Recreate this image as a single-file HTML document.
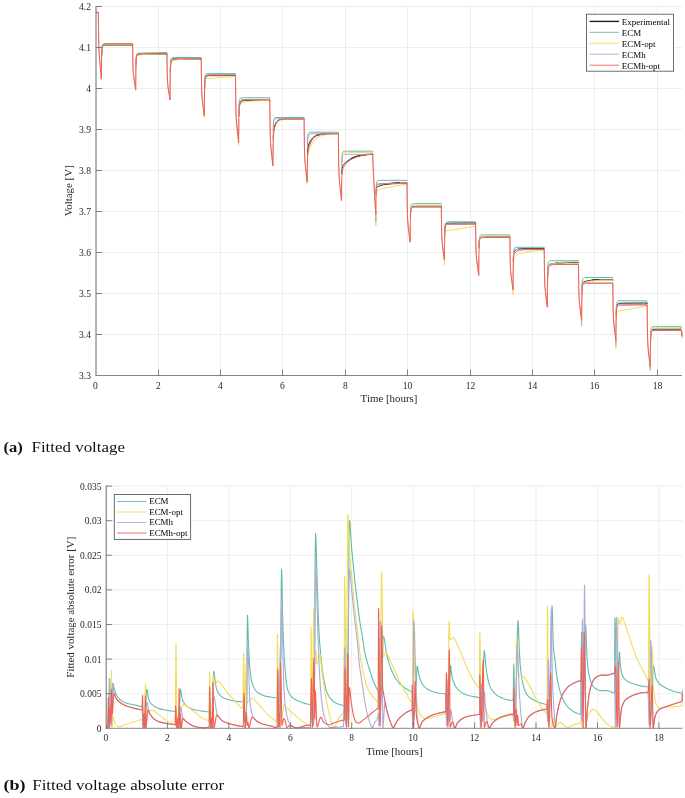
<!DOCTYPE html><html><head><meta charset="utf-8"><title>Fitted voltage</title>
<style>html,body{margin:0;padding:0;background:#fff}body{width:685px;height:798px;overflow:hidden;position:relative}svg{position:absolute;left:0;top:0}text{font-family:"Liberation Serif",serif;fill:#262626}.t{font-size:9.55px}.l{font-size:10.9px}.cap{font-size:15.5px;fill:#111}.lg{font-size:8.95px;fill:#000}</style></head><body>
<svg width="685" height="798" viewBox="0 0 685 798">
<path d="M158.5 6.5V375.5M220.5 6.5V375.5M282.5 6.5V375.5M345.5 6.5V375.5M407.5 6.5V375.5M470.5 6.5V375.5M532.5 6.5V375.5M594.5 6.5V375.5M657.5 6.5V375.5M95.6 6.5H682.0M95.6 47.5H682.0M95.6 88.5H682.0M95.6 129.5H682.0M95.6 170.5H682.0M95.6 211.5H682.0M95.6 252.5H682.0M95.6 293.5H682.0M95.6 334.5H682.0" stroke="#e8e8e8" stroke-width="0.8" fill="none"/>
<path d="M167.4 486.1V728.3M228.8 486.1V728.3M290.3 486.1V728.3M351.7 486.1V728.3M413.1 486.1V728.3M474.6 486.1V728.3M536.0 486.1V728.3M597.5 486.1V728.3M658.9 486.1V728.3M105.95 486.1H682.4M105.95 520.7H682.4M105.95 555.3H682.4M105.95 589.9H682.4M105.95 624.5H682.4M105.95 659.1H682.4M105.95 693.7H682.4" stroke="#e8e8e8" stroke-width="0.8" fill="none"/>
<!--CURVES-->
<g fill="none" stroke-width="1" stroke-linejoin="round" stroke-linecap="butt">
<path d="M95.95 12.4L98.3 12.4L98.35 13.4M101.7 55.32L101.9 50.57L102.2 47.87L102.5 46.83L102.8 46.3L103.3 45.82L103.9 45.55L105 45.36L106.8 45.31L132.6 45.3L132.65 46.3M136 64.67L136.2 59.69L136.5 56.9L136.7 56.12L137.1 55.34L137.6 54.88L138.2 54.6L139.3 54.41L141.1 54.34L166.9 54L166.95 55M170.3 71.46L170.5 65.73L170.7 63.19L170.9 61.91L171.2 60.9L171.6 60.18L172.1 59.67L172.7 59.34L173.8 59.1L175.8 59.01L201.2 59L201.25 60M204.6 88.41L204.8 82.74L205 80.17L205.2 78.84L205.5 77.74L205.9 76.93L206.4 76.36L207.1 75.95L208.2 75.7L210.2 75.61L235.5 75.6L235.55 76.6M238.9 116.45L239.2 108.93L239.4 106.74L239.7 104.85L240.1 103.35L240.6 102.22L241.2 101.44L241.9 100.97L243.1 100.64L245.2 100.52L269.8 100.5L269.85 101.5M273.2 139.44L273.4 133.88L273.6 131.19L273.9 129.03L274.3 127.21L275.1 124.69L276 122.78L277 121.4L277.6 120.83L278.2 120.39L279.5 119.77L281.1 119.37L283.2 119.14L286.4 119.03L304.1 119L304.15 120M307.5 155.16L307.8 148.57L308.1 146.43L308.6 144.76L309.8 142.07L311.2 139.76L312.7 137.98L313.6 137.17L314.5 136.51L316.3 135.53L318.3 134.83L320.7 134.31L323.7 133.96L329.2 133.7L338.4 133.61L338.45 134.61M341.8 174.26L342.1 168.14L342.3 166.84L342.6 165.99L343 165.39L343.7 164.56L345.6 162.63L347.5 161.03L349.5 159.65L352 158.27L354.7 157.11L357.5 156.21L361 155.38L363.5 154.94L366.5 154.54L372.7 154.01L372.75 155.01M376.1 193.64L376.4 188.98L376.6 188.04L376.8 187.61L377.3 187.14L378.7 186.36L380.2 185.69L381.9 185.09L384.6 184.39L387.6 183.87L391.3 183.47L395.3 183.22L400.3 183.06L407 182.96L407.05 183.96M410.4 216.83L410.6 211.77L410.8 209.55L411 208.45L411.3 207.59L411.7 206.98L412.2 206.56L412.8 206.29L413.9 206.08L415.9 206.01L441.3 206L441.35 207M444.7 234.48L444.9 229.34L445.1 227.05L445.3 225.89L445.6 224.96L446 224.28L446.5 223.81L447.2 223.46L448.3 223.25L450.3 223.15L475.6 222.9L475.65 223.9M479 247.7L479.2 242.39L479.5 239.47L479.7 238.66L480.1 237.85L480.6 237.34L481.3 236.99L482.4 236.79L484.4 236.71L509.9 236.7L509.95 237.7M513.3 261.4L513.5 255.94L513.7 253.67L513.9 252.59L514.3 251.55L514.9 250.71L515.8 249.92L516.8 249.4L517.7 249.12L518.7 248.94L521.7 248.75L544.2 248.7L544.25 249.7M547.6 277.34L547.8 271.32L548 268.65L548.2 267.3L548.5 266.2L549 265.23L549.6 264.59L550.3 264.16L551.1 263.87L552.2 263.62L555.8 263.13L560.5 262.75L566.3 262.49L578.5 262.27L578.55 263.27M581.9 291.19L582.1 285.87L582.3 283.84L582.5 283.02L582.7 282.65L583.1 282.32L585.1 281.47L587.5 280.84L590.3 280.39L593.7 280.1L598.1 279.92L612.8 279.81L612.85 280.81M616.2 314.59L616.4 309.39L616.6 307.07L616.8 305.9L617.1 304.97L617.5 304.29L618 303.81L618.7 303.47L619.8 303.26L621.8 303.17L647.1 303L647.15 304M650.5 340.47L650.8 333.83L651 332.23L651.2 331.38L651.6 330.49L652.1 329.93L652.7 329.57L653.6 329.34L656.7 329.2L681.4 329.2L681.7 333.5L682 335.5" stroke="#1c1c1c" stroke-width="1.0"/>
<path d="M281.95 119.25L283.95 119.1L286.9 119.03M316.25 135.56L317.45 135.09L318.85 134.68L321.7 134.17L325.7 133.83L330.7 133.67M350.85 158.86L352.45 158.05L354.15 157.32L356 156.66L358 156.07L362 155.19L367 154.49M383.95 184.53L387.15 183.93L390.8 183.51L394.8 183.25L399.8 183.07M555.95 263.12L560.05 262.78L564.8 262.54M591.55 280.26L594.85 280.04L599.1 279.9" stroke="#1c1c1c" stroke-width="1.4"/>
<path d="M95.95 12.4L98.3 12.4L98.35 13.4M101.7 54.22L101.9 49.13L102.2 46.11L102.4 45.23L102.7 44.52L103.1 44.06L103.6 43.8L104.4 43.65L105.9 43.6L132.6 43.6L132.65 44.6M136 64.08L136.2 58.82L136.5 55.72L136.7 54.82L137 54.09L137.4 53.62L137.9 53.35L138.7 53.18L140.2 53.1L166.9 52.5L166.95 53.5M170.3 69.7L170.5 63.61L170.8 60.14L171 59.18L171.3 58.43L171.6 58.04L172.1 57.73L172.9 57.56L174.4 57.51L201.2 57.5L201.25 58.5M204.6 85.78L204.8 79.71L205.1 76.24L205.3 75.28L205.6 74.53L205.9 74.14L206.4 73.83L207.2 73.66L208.7 73.61L235.5 73.6L235.55 74.6M238.9 110.61L239.1 104.14L239.4 100.49L239.6 99.5L239.9 98.73L240.2 98.35L240.7 98.03L241.5 97.86L243 97.81L269.8 97.8L269.85 98.8M273.2 131.04L273.4 124.11L273.7 120.25L273.9 119.22L274.2 118.44L274.5 118.05L275 117.73L275.8 117.56L277.3 117.51L304.1 117.5L304.15 118.5M307.5 146.03L307.7 138.91L308 134.98L308.2 133.93L308.5 133.14L308.8 132.75L309.3 132.43L310.1 132.26L311.6 132.21L338.4 132.2L338.45 133.2M341.8 165.03L342 157.91L342.3 153.98L342.5 152.93L342.8 152.14L343.1 151.75L343.6 151.43L344.4 151.26L345.9 151.21L372.7 151.2L372.75 152.2M376.1 190.73L376.3 185.82L376.6 182.89L376.8 182.02L377.1 181.31L377.5 180.85L378.1 180.56L378.9 180.43L380.4 180.39L407 180.3L407.05 181.3M410.4 215L410.6 209.42L410.9 206.18L411.1 205.25L411.4 204.53L411.8 204.06L412.3 203.8L413.1 203.65L414.6 203.6L441.3 203.6L441.35 204.6M444.7 232.97L444.9 227.47L445.2 224.27L445.4 223.36L445.7 222.63L446.1 222.17L446.6 221.91L447.4 221.77L448.9 221.73L475.6 221.9L475.65 222.9M479 246.57L479.2 240.82L479.5 237.5L479.7 236.56L480 235.83L480.4 235.36L480.9 235.1L481.7 234.95L483.2 234.9L509.9 234.9L509.95 235.9M513.3 259.63L513.5 253.52L513.8 250.04L514 249.08L514.3 248.33L514.6 247.94L515.1 247.63L515.9 247.45L517.4 247.39L544.2 247.3L544.25 248.3M547.6 273.86L547.8 267.17L548.1 263.42L548.3 262.41L548.6 261.64L548.9 261.25L549.4 260.93L550.2 260.76L551.7 260.71L578.5 260.7L578.55 261.7M581.9 289.82L582.1 283.65L582.4 280.15L582.6 279.18L582.9 278.43L583.2 278.05L583.7 277.73L584.5 277.56L586 277.51L612.8 277.5L612.85 278.5M616.2 312.3L616.4 306.59L616.7 303.3L616.9 302.37L617.2 301.63L617.6 301.17L618.1 300.91L618.9 300.77L620.4 300.73L647.1 300.9L647.15 301.9M650.5 338.41L650.7 332.63L650.9 330.05L651.1 328.76L651.4 327.82L651.8 327.24L652.3 326.93L653.1 326.76L655.4 326.7L681.4 326.7L681.7 333L682 335" stroke="#62bba9"/>
<path d="M95.95 12.4L98.3 12.4L98.35 13.4M101.7 55.9L101.9 51.15L102.1 48.98L102.3 47.84L102.6 46.89L103 46.18L103.6 45.6L104.3 45.28L105.4 45.08L107.4 45.01L132.6 45L132.65 46M135.45 88.5L135.7 90.6L135.75 88.5M136 65.68L136.2 60.64L136.4 58.44L136.6 57.36L136.9 56.53L137.3 55.95L137.8 55.54L138.5 55.22L139.5 54.97L141 54.76L146 54.35L152.2 54.11L160.2 53.98L166.9 53.93L166.95 54.93M170.3 72.82L170.5 67.34L170.7 64.94L170.9 63.75L171.2 62.8L171.7 61.98L172.4 61.33L173.4 60.8L175.6 60.14L178.6 59.61L182.1 59.25L186.5 59.02L192.5 58.88L201.2 58.82L201.25 59.82M204.05 114.9L204.3 117.4L204.35 114.9M204.6 87.34L204.7 83.94L204.9 80.63L205.2 79.12L205.4 78.83L205.6 78.71L206.6 78.58L235.5 76.3L235.55 77.3M238.35 141.7L238.6 145.3L238.65 141.7M238.9 116.05L239.1 110.14L239.3 107.54L239.5 106.23L239.9 104.91L240.4 104.02L241.1 103.29L241.9 102.79L242.8 102.44L243.9 102.14L247.3 101.54L251.5 101.08L256.6 100.74L262.6 100.53L269.8 100.4L269.85 101.4M273.2 142.71L273.4 137.51L273.6 134.82L274 131.85L274.7 128.59L275.5 125.96L276.4 123.89L276.9 123.04L277.5 122.22L278.1 121.59L278.7 121.09L280.1 120.29L281.8 119.76L283.9 119.43L286.9 119.22L292.9 119.08L304.1 119.02L304.15 120.02M306.95 180.8L307.2 184.3L307.25 180.8M307.5 161.29L307.7 156.63L308 153.86L308.4 152.19L309.3 149.64L310.8 146.22L312.4 143.37L313.3 142.06L314.2 140.92L315.2 139.83L316.2 138.9L318.2 137.43L320.4 136.27L322.7 135.42L325.7 134.7L328.2 134.3L331.2 134L338.4 133.66L338.45 134.66M341.8 163.52L341.9 159.34L342.1 155.27L342.2 154.34L342.4 153.43L342.6 153.09L342.8 152.96L343.8 152.86L372.7 152.2L372.75 153.2M375.55 213L375.8 226L375.85 213M376.1 198.76L376.3 193.76L376.6 191.41L376.8 190.9L377 190.65L378.1 190.05L380.7 189.09L383.9 188.2L387.9 187.34L393.3 186.38L407 184.2L407.05 185.2M410.4 216.55L410.6 211.37L410.8 209.07L411 207.92L411.3 207.01L411.7 206.36L412.2 205.9L412.8 205.61L413.9 205.39L415.9 205.31L441.3 205.3L441.35 206.3M444.15 258.7L444.4 265.4L444.45 258.7M444.7 238.83L444.8 235.83L445 232.9L445.3 231.56L445.5 231.28L445.7 231.16L475.6 226.3L475.65 227.3M479 248.01L479.2 242.81L479.4 240.61L479.6 239.54L480 238.51L480.5 237.79L481.3 237.09L482.2 236.64L483 236.42L483.9 236.28L486.6 236.13L509.9 236.1L509.95 237.1M512.75 288.7L513 294.8L513.05 288.7M513.3 268.41L513.6 261.7L513.8 260.04L514.1 258.74L514.6 257.5L515.4 256.22L516.3 255.26L517.5 254.42L518.5 253.93L519.6 253.51L522.7 252.62L526.6 251.83L531 251.19L537 250.6L544.2 250.18L544.25 251.18M547.6 277.71L547.8 271.71L548 269.05L548.2 267.68L548.5 266.57L549 265.58L549.6 264.9L550.4 264.39L551.2 264.07L552.4 263.75L556.1 263.09L560.6 262.55L565.8 262.16L571.3 261.9L578.5 261.71L578.55 262.71M581.35 319.2L581.6 321L581.65 319.2M581.9 292.03L582.1 286.68L582.3 284.65L582.5 283.83L582.7 283.46L583.1 283.13L585.1 282.29L587.6 281.58L590.5 281.05L593.9 280.68L598.1 280.44L604.1 280.29L612.8 280.22L612.85 281.22M615.65 339.2L615.9 348.5L615.95 339.2M616.2 319.68L616.3 316.42L616.5 313.25L616.8 311.78L617 311.49L617.2 311.35L618.2 311.12L647.1 305.8L647.15 306.8M650.5 340.1L650.8 333.14L651 331.41L651.2 330.46L651.6 329.43L652.2 328.67L652.9 328.26L653.9 328.02L657 327.9L681.4 327.9L681.7 334L682 336" stroke="#f3dd58"/>
<path d="M95.95 12.4L98.3 12.4L98.35 13.4M101.15 77.8L101.4 79.6L101.45 77.8M101.7 54.89L101.9 49.63L102.2 46.54L102.4 45.64L102.7 44.92L103.1 44.46L103.6 44.2L104.4 44.05L105.9 44L132.6 44L132.65 45M136 64.55L136.2 59.25L136.5 56.14L136.7 55.24L137 54.52L137.4 54.06L137.9 53.8L138.7 53.65L140.2 53.6L166.9 53.6L166.95 54.6M170.3 70.66L170.5 64.6L170.8 61.14L171 60.18L171.3 59.43L171.6 59.04L172.1 58.73L172.9 58.56L174.4 58.51L201.2 58.5L201.25 59.5M204.6 86.94L204.8 80.89L205.1 77.44L205.3 76.48L205.6 75.73L205.9 75.34L206.4 75.03L207.2 74.86L208.7 74.81L235.5 74.8L235.55 75.8M238.9 112.15L239.1 105.78L239.4 102.18L239.6 101.19L239.9 100.43L240.2 100.05L240.7 99.73L241.5 99.56L243 99.51L269.8 99.5L269.85 100.5M273.2 131.98L273.4 125.25L273.7 121.61L273.9 120.63L274.2 119.87L274.7 119.25L275.3 118.91L276.4 118.68L278.2 118.61L304.1 118.6L304.15 119.6M307.5 146.38L307.7 139.62L308 136.24L308.2 135.44L308.5 134.88L308.9 134.52L309.4 134.26L310.7 133.98L312.8 133.88L338.4 133.7L338.45 134.7M341.8 166.58L342 160.04L342.3 156.67L342.5 155.85L342.7 155.42L343.1 154.97L343.6 154.7L344.6 154.48L346.5 154.41L372.7 154.4L372.75 155.4M375.55 213L375.8 222L375.85 213M376.1 195.11L376.3 189.46L376.6 186.19L376.8 185.26L377.1 184.53L377.5 184.06L378 183.8L378.8 183.65L380.3 183.6L407 183.6L407.05 184.6M410.4 217.71L410.6 212.53L410.9 209.48L411.1 208.58L411.4 207.87L411.8 207.41L412.3 207.15L413.1 207L414.6 206.95L441.3 206.95L441.35 207.95M444.7 235.09L444.9 229.8L445.2 226.69L445.4 225.79L445.7 225.07L446.1 224.61L446.6 224.35L447.4 224.2L448.9 224.15L475.6 224.15L475.65 225.15M478.45 273.6L478.7 276L478.75 273.6M479 248.92L479.2 243.23L479.5 239.94L479.7 239.01L480 238.28L480.4 237.81L480.9 237.55L481.7 237.4L483.2 237.35L509.9 237.35L509.95 238.35M513.3 260.12L513.5 254.35L513.8 251.39L514 250.67L514.2 250.29L514.6 249.9L515.1 249.66L516.1 249.47L518 249.41L544.2 249.4L544.25 250.4M547.6 276.01L547.8 269.87L548.1 266.56L548.3 265.69L548.6 265.01L549 264.55L549.6 264.2L550.7 263.98L552.5 263.91L578.5 263.9L578.55 264.9M581.35 319.2L581.6 325.7L581.65 319.2M581.9 295.47L582.1 289.21L582.4 285.67L582.6 284.69L582.9 283.93L583.2 283.55L583.7 283.23L584.5 283.06L586 283.01L612.8 283L612.85 284M615.65 339.2L615.9 345.4L615.95 339.2M616.2 316.88L616.4 310.93L616.7 307.53L616.9 306.57L617.2 305.83L617.6 305.36L618.1 305.1L618.9 304.95L620.4 304.9L647.1 304.9L647.15 305.9M649.95 365.7L650.2 370.7L650.25 365.7M650.5 342.26L650.7 336.32L650.9 333.68L651.1 332.38L651.4 331.42L651.7 330.95L652.2 330.58L652.9 330.39L655.2 330.3L681.4 330.3L681.7 335.9L682 337.9" stroke="#adacd6"/>
<path d="M95.95 12.4L98.3 12.4L98.61 35.36L98.8 43.21L99.09 50.88L99.42 56.69L99.79 61.6L101.4 78.8L101.65 57.08L101.95 49.27L102.15 47.35L102.55 45.69L102.85 45.09L103.15 44.71L103.55 44.39L103.95 44.2L105.05 43.97L106.85 43.91L132.6 43.9L132.87 61.87L133.06 68.03L133.29 72.43L133.84 77.7L135.7 89.5L135.85 72.21L136.05 62.05L136.35 56.93L136.65 55.38L137.05 54.62L137.45 54.27L138.05 54L138.85 53.84L139.95 53.77L166.9 53.4L167.17 71.68L167.36 77.95L167.59 82.43L168.14 87.79L170 99.8L170.15 82.16L170.45 68.45L170.65 65.13L170.95 62.73L171.35 61.15L171.95 59.94L172.45 59.41L173.05 59.06L173.85 58.85L175.05 58.74L201.2 58.7L201.47 81.24L201.66 88.96L201.89 94.49L202.44 101.1L204.3 115.9L204.45 97.33L204.75 83.35L204.95 80.18L205.15 78.6L205.55 77.07L206.05 76.16L206.55 75.66L207.15 75.34L207.95 75.14L209.15 75.04L235.5 75L235.77 101.67L235.96 110.82L236.19 117.36L236.74 125.18L238.6 142.7L238.85 118.87L239.15 109.66L239.35 107.08L239.75 104.41L240.25 102.65L240.85 101.48L241.45 100.84L242.15 100.45L243.05 100.21L244.25 100.09L269.8 99.8L270.07 125.84L270.26 134.77L270.49 141.15L271.04 148.79L272.9 165.9L273.15 143.59L273.35 137L273.55 133.8L273.95 130.58L274.75 126.97L275.65 124.31L276.65 122.39L277.65 121.16L278.85 120.27L280.35 119.65L282.25 119.27L284.35 119.09L287.4 118.99L304.1 118.8L304.37 143.62L304.56 152.13L304.79 158.22L305.34 165.5L307.2 181.8L307.45 161.01L307.65 155.15L307.85 152.47L308.05 150.99L308.35 149.55L309.35 146.19L310.65 142.93L312.05 140.37L312.75 139.37L313.55 138.4L314.45 137.52L315.35 136.79L316.35 136.15L317.45 135.6L318.55 135.17L319.85 134.79L322.7 134.26L326.2 133.95L330.7 133.79L338.4 133.71L338.67 160.07L338.86 169.1L339.09 175.56L339.64 183.29L341.5 200.6L341.75 179.86L342.05 172.71L342.25 170.99L342.65 169.37L343.45 167.53L344.55 165.67L345.45 164.43L346.55 163.17L347.75 161.99L349.05 160.91L350.45 159.91L351.85 159.05L353.45 158.21L355.05 157.5L358.5 156.32L362.5 155.4L367 154.72L372.7 154.22L373.2 167.89L373.82 181.04L374.68 196.47L375.8 214L375.95 199.95L376.25 189.49L376.45 187.21L376.65 186.11L376.95 185.3L377.35 184.77L377.75 184.48L378.35 184.23L380.25 184L407 183.3L407.27 206.47L407.46 214.41L407.69 220.09L408.24 226.88L410.1 242.1L410.25 226.05L410.55 214.08L410.75 211.43L410.95 210.12L411.35 208.88L411.85 208.11L412.45 207.61L413.15 207.3L414.05 207.12L415.25 207.04L441.3 207L441.57 227.76L441.76 234.88L441.99 239.97L442.54 246.06L444.4 259.7L444.55 243.55L444.85 231.4L445.05 228.66L445.25 227.29L445.65 225.97L446.15 225.19L446.65 224.76L447.25 224.48L448.05 224.31L449.25 224.22L475.6 224.1L475.87 244L476.06 250.82L476.29 255.69L476.84 261.53L478.7 274.6L478.85 257.11L479.15 244.25L479.35 241.5L479.55 240.2L479.85 239.24L480.25 238.58L480.75 238.11L481.45 237.75L482.35 237.54L483.65 237.44L509.9 237.4L510.17 258L510.36 265.07L510.59 270.12L511.14 276.16L513 289.7L513.15 271.53L513.45 258.56L513.75 255.3L514.05 254.23L514.55 253.41L515.15 252.73L515.85 252.09L516.65 251.52L517.45 251.07L519.35 250.37L521.65 249.92L524.35 249.68L528 249.56L544.2 249.5L544.47 272.19L544.66 279.98L544.89 285.54L545.44 292.19L547.3 307.1L547.45 287.76L547.75 273.6L547.95 270.57L548.15 269.12L548.55 267.72L549.25 266.48L550.05 265.66L550.95 265.14L552.15 264.79L553.75 264.6L557.95 264.51L578.5 264.5L578.77 286.44L578.96 293.97L579.19 299.35L579.74 305.78L581.6 320.2L581.75 303.09L582.05 290.33L582.25 287.51L582.45 286.14L582.75 285.09L583.25 284.24L583.75 283.79L584.35 283.5L585.15 283.32L586.35 283.23L612.8 283.2L613.07 305.66L613.26 313.36L613.49 318.86L614.04 325.45L615.9 340.2L616.05 324.17L616.35 312.14L616.55 309.43L616.75 308.09L617.15 306.8L617.65 306.04L618.15 305.62L618.75 305.34L619.55 305.17L620.75 305.07L647.1 304.7L647.37 329.13L647.56 337.5L647.79 343.49L648.34 350.65L650.2 366.7L650.35 350.13L650.65 337.69L650.85 334.89L651.05 333.5L651.45 332.18L652.05 331.29L652.55 330.91L653.15 330.66L653.95 330.51L655.15 330.43L681.4 330.4L681.7 334.2L682 336.2" stroke="#ec6358"/>
<path d="M98.3 12.4L98.61 35.36L98.8 43.21L99.09 50.88L99.42 56.69L99.79 61.6L101.4 78.8L101.65 57.08M132.6 43.9L132.87 61.87L133.06 68.03L133.29 72.43L133.84 77.7L135.7 89.5L135.85 72.21L136.05 62.05M166.9 53.4L167.17 71.68L167.36 77.95L167.59 82.43L168.14 87.79L170 99.8L170.15 82.16L170.45 68.45M201.2 58.7L201.47 81.24L201.66 88.96L201.89 94.49L202.44 101.1L204.3 115.9L204.45 97.33L204.75 83.35M235.5 75L235.77 101.67L235.96 110.82L236.19 117.36L236.74 125.18L238.6 142.7L238.85 118.87M269.8 99.8L270.07 125.84L270.26 134.77L270.49 141.15L271.04 148.79L272.9 165.9L273.15 143.59M304.1 118.8L304.37 143.62L304.56 152.13L304.79 158.22L305.34 165.5L307.2 181.8L307.45 161.01M338.4 133.71L338.67 160.07L338.86 169.1L339.09 175.56L339.64 183.29L341.5 200.6L341.75 179.86M372.7 154.22L373.2 167.89L373.82 181.04L374.68 196.47L375.8 214L375.95 199.95M407 183.3L407.27 206.47L407.46 214.41L407.69 220.09L408.24 226.88L410.1 242.1L410.25 226.05M441.3 207L441.57 227.76L441.76 234.88L441.99 239.97L442.54 246.06L444.4 259.7L444.55 243.55M475.6 224.1L475.87 244L476.06 250.82L476.29 255.69L476.84 261.53L478.7 274.6L478.85 257.11M509.9 237.4L510.17 258L510.36 265.07L510.59 270.12L511.14 276.16L513 289.7L513.15 271.53L513.45 258.56M544.2 249.5L544.47 272.19L544.66 279.98L544.89 285.54L545.44 292.19L547.3 307.1L547.45 287.76L547.75 273.6M578.5 264.5L578.77 286.44L578.96 293.97L579.19 299.35L579.74 305.78L581.6 320.2L581.75 303.09L582.05 290.33M612.8 283.2L613.07 305.66L613.26 313.36L613.49 318.86L614.04 325.45L615.9 340.2L616.05 324.17L616.35 312.14M647.1 304.7L647.37 329.13L647.56 337.5L647.79 343.49L648.34 350.65L650.2 366.7L650.35 350.13L650.65 337.69" stroke="#ec6358" stroke-width="0.5"/>
</g>
<g fill="none" stroke-width="1.1" stroke-linejoin="round" stroke-linecap="butt">
<path d="M106.41 727.64L107.71 727.58L108.82 727.4L109.01 716.83L109.31 685.18L109.46 678.44L109.61 679.64L109.81 684.29L110.51 709.35L110.71 713.45L110.82 714.15L111.11 712.68L111.41 708.6L112.51 687.15L112.81 683.87L112.99 683.26L113.11 683.38L113.31 684.08L114.11 688.35L115.01 691.43L115.81 693.6L116.91 695.7L118.11 697.56L119.31 699.01L120.51 700.07L122.11 701.14L124.06 702.12L126.11 702.93L128.51 703.68L132.21 704.55L136.41 705.39L140.31 706.39L141.72 706.53L142.57 706.13L143.14 722.18L143.41 722.05L143.61 721.79L144.11 720.67L144.82 718.17L145.01 716.86L145.41 711.04L146.31 693.7L146.61 690.16L146.83 689.27L147.01 689.52L147.31 690.82L148.31 697.58L149.21 700.42L149.81 701.73L150.71 703.06L151.81 704.32L153.11 705.46L154.81 706.6L156.61 707.54L158.81 708.4L161.31 709.15L164.31 709.81L169.01 710.63L173.41 711.26L175.85 711.35L176.01 713.18L176.41 723.17L176.49 723.78L176.61 723.77L177.11 723.35L177.71 722.15L178.41 719.89L178.91 717.58L179.21 712.97L180.01 693.8L180.21 690.63L180.43 689.27L180.61 689.52L180.91 690.83L181.91 697.59L182.91 700.68L183.61 702.2L184.51 703.58L185.71 705L187.11 706.25L188.71 707.35L190.51 708.29L192.81 709.21L195.21 709.94L197.81 710.45L206.71 711.73L209.37 711.91L209.61 714.4L210.01 722.48L210.11 723.56L210.17 723.78L210.31 723.75L210.51 723.55L210.81 722.95L211.41 720.72L212.11 716.53L212.51 713.04L212.81 704.15L213.41 678.64L213.61 673.04L213.78 671.22L214.01 671.73L214.21 672.91L215.21 681.91L215.91 686.09L216.41 688.38L217.11 690.52L217.81 692.08L219.01 693.91L220.31 695.43L221.81 696.73L223.71 697.88L226.21 698.96L228.91 699.81L232.41 700.61L236.81 701.34L240.61 701.66L243.61 701.71L243.81 704.3L244.31 719.82L244.41 721.63L244.49 722.18L244.61 722.13L244.81 721.8L245.11 720.71L245.61 717.35L246.31 709.37L246.51 704.92L247.21 631.1L247.5 615.3L247.71 618.51L248.3 640L248.91 652.9L249.51 663.24L250.01 669.75L250.71 676.28L251.21 679.5L252.01 682.86L252.61 684.67L253.41 686.56L254.31 688.35L255.21 689.81L256.01 690.83L257.21 692.05L258.41 693.04L259.61 693.83L261.11 694.6L262.71 695.25L264.61 695.85L266.81 696.4L271.81 697.26L275.11 697.64L277.37 697.7L277.61 702.84L278.01 719.48L278.11 721.72L278.17 722.18L278.31 722.08L278.71 720.7L279.21 716.82L279.81 709.39L280.11 703.62L280.41 681.79L281.21 588.96L281.41 574.26L281.6 569L281.71 570.19L281.91 577.49L282.5 610L283.11 631.48L283.61 645.17L284.31 658.23L285.51 675.06L286.04 680.45L287.01 686.6L287.51 688.79L288.01 690.44L288.71 692.33L289.41 693.83L290.11 694.97L291.21 696.39L292.31 697.53L293.41 698.44L294.71 699.31L296.11 700.04L299.61 701.57L302.09 702.52L304.81 703.38L308.41 704.31L309.71 704.51L311.04 704.51L311.31 706.7L312.01 721.03L312.21 723.24L312.29 723.46L312.41 723.39L312.61 723.01L312.91 721.79L313.51 717.04L314.2 707.67L314.31 702.97L314.61 664.2L315.21 555.2L315.5 533.5L315.61 533.86L315.81 536.24L316.11 543.23L317.21 582.97L318.31 616.87L318.81 629L319.61 641.58L320.91 656.92L322.01 667.47L323.21 676.08L324.71 684.19L326.01 689.5L326.91 692.14L327.81 694.28L328.81 696.17L329.91 697.83L331.31 699.48L332.91 701L334.51 702.19L336.31 703.25L338.81 704.29L341.91 705.17L343.11 705.39L344.82 705.41L345.11 708.95L345.61 721.16L345.71 722.68L345.81 723.42L345.91 723.43L346.21 722.7L346.51 721.06L347.11 715.26L347.64 707.67L347.81 700.6L348.11 670.84L349.01 543.12L349.21 526.4L349.4 520.5L349.51 520.65L349.71 521.66L350.01 524.64L351.51 547.2L355.11 583.42L356.21 593.08L359.11 616.33L359.91 622.13L362.71 638.73L364.41 650.47L365.11 653.93L366.01 657.64L368.31 665.71L373.01 680.22L374.81 684.6L378.41 692.02L378.71 697.29L379.41 718.81L379.66 721.7L379.91 720.77L380.21 717.45L380.91 703.54L381.81 681.11L382.81 643.63L383.01 638.81L383.28 636.17L383.51 636.33L383.81 636.99L384.31 639L384.91 642.53L386.51 653.41L386.91 655.51L387.61 658.28L389.61 664.9L390.71 668.2L392.41 672.27L394.11 675.77L395.71 678.55L397.61 681.27L399.51 683.55L401.31 685.29L403.81 687.18L409.51 690.78L410.51 691.26L411.41 691.52L412.07 691.58L412.21 691.28L412.41 694.36L413.01 717.19L413.21 720.14L413.41 719.91L413.61 719.24L414.11 716L414.71 709.92L415.51 700.1L415.91 692.53L416.71 671.97L417.01 667.14L417.21 666.03L417.41 666.34L417.61 667.18L418.52 673.05L419.41 676.96L420.01 679.02L421.01 681.52L422.01 683.51L423.11 685.18L424.41 686.66L426.03 688.08L428.11 689.54L429.81 690.47L431.81 691.29L434.31 692.08L437.31 692.83L440.41 693.45L444.01 693.82L444.91 694.04L445.61 694.33L445.96 696.6L446.11 698.92L446.81 719.37L446.91 721L447.01 721.69L447.11 721.62L447.31 720.84L447.61 718.34L448.21 710.09L449.11 695.27L450.21 669.36L450.41 666.56L450.64 665.32L450.81 666.37L451.11 669.99L451.71 674.68L452.11 677.04L452.71 679.47L453.66 682.26L455.01 685.33L456.01 687.07L457.41 688.84L459.21 690.58L461.61 692.4L463.71 693.67L466.01 694.72L467.71 695.33L469.41 695.77L476.81 697.11L479.61 697.72L479.91 701.78L480.61 719.43L480.81 721.62L480.85 721.7L480.91 721.66L481.21 720.08L481.61 715.08L482.77 691.91L483.81 657.51L484.01 652.79L484.26 650.43L484.41 650.79L484.61 652.16L485.91 665.92L486.51 671.02L488.11 679.87L488.71 682.53L489.21 684.2L489.91 686.15L490.71 687.92L491.61 689.45L492.61 690.82L495.01 693.59L496.31 694.92L497.51 695.82L499.31 696.78L502.81 698.26L505.41 699.16L509.11 700.1L512.31 700.48L512.93 700.66L513.07 700.87L513.21 697.1L513.61 669.51L513.78 664.09L514.01 671.25L514.51 705.76L514.71 711.09L514.81 710.92L515.01 709.72L515.31 706.18L516.21 688.89L516.61 673.95L517.51 630.69L517.81 622.31L518 620.6L518.21 622.04L518.41 625.64L519.3 649.4L519.91 660.65L520.31 666.13L521.01 672.56L522.01 679.49L522.71 683.22L523.91 687.83L525.11 691.2L526.61 693.99L527.41 695.14L528.21 696.08L529.21 697.05L530.41 698L532.01 699.06L533.81 700.09L537.91 701.94L540.11 702.74L543.31 703.74L545.21 704.24L547.01 704.57L547.21 706.52L547.81 719.56L548.01 721.31L548.21 721.04L548.51 719.59L549.11 713.45L549.71 703.86L550.41 689.58L550.71 676.33L551.61 616.46L551.81 608.51L552 605.7L552.11 606.35L552.31 610.49L553.01 637.54L553.21 643.41L553.41 646.55L553.91 651.74L554.91 659.49L556.01 670.41L556.91 676.86L557.81 681.97L559.01 687.46L560.61 693.41L561.81 697.05L563.01 699.73L564.01 701.55L565.21 703.47L566.51 705.39L567.61 706.81L569.51 708.69L572.51 710.92L574.81 712.34L578.01 713.76L578.91 714.03L579.71 714.15L580.31 714.13L580.86 713.95L581.01 703L581.31 650.02L581.5 632.3L581.71 634.8L581.91 641.15L582.91 691.75L583.21 699.48L583.3 700L583.41 699.52L583.61 696.33L583.91 687.04L585.11 633.75L585.41 626.39L585.6 624.9L585.71 625.48L585.91 629.1L586.71 651.57L587.11 658.75L587.61 664.85L588.21 670.14L589.11 675.59L590.01 679.31L591.21 682.77L592.41 685.1L593.81 687.05L595.81 688.8L597.51 689.84L598.81 690.22L601.31 690.6L606.71 690.66L607.51 690.74L611.01 691.77L613.41 692.7L614.58 692.9L614.9 617.9L615.11 620.15L615.31 625.98L616.51 688.58L616.81 698.06L617 700L617.21 699.13L617.51 695.21L618.91 660.31L619.31 653.59L619.41 652.65L619.6 651.9L620.01 661.63L620.41 665.91L621.01 670.06L621.61 673.12L622.11 674.79L623.01 676.89L623.98 678.39L625.51 679.88L627.81 681.4L630.41 682.69L633.81 683.99L637.11 684.99L641.81 686.11L646.31 686.7L648 686.77L648.04 686.6L648.11 686.65L648.4 687.66L648.51 688.42L648.71 691.42L649.71 717.29L649.91 720.51L650.11 721.7L650.31 721.08L650.51 719.37L650.91 713.52L652.01 692.09L652.81 671.58L653.11 666.74L653.3 665.74L653.61 666.16L654.01 667.72L655.31 675.8L655.81 677.97L656.51 679.6L657.31 681.1L658.11 682.3L659.11 683.47L660.61 684.82L662.41 686.05L665.41 687.8L668.41 689.25L671.61 690.5L676.11 691.93L679.71 692.57L681.31 693.16L682.02 693.62L682.11 693.84L682.45 696.17" stroke="#62bba9"/>
<path d="M106.41 727.64L108.21 727.58L109.62 727.4L109.81 724.83L110.21 712.47L110.42 709.34L110.91 725.37L111.46 670.41L112.03 727.4L112.21 726.38L112.71 718.79L112.99 716.56L113.21 716.85L113.41 717.51L114.31 721.82L115.11 723.58L115.81 724.75L116.41 725.47L116.91 725.83L118.11 726.38L119.21 726.59L120.51 726.4L123.91 725.04L136.21 721.34L139.81 719.95L140.81 719.7L141.76 719.61L142.11 719.72L142.41 719.99L142.82 720.57L142.91 720.96L143.41 726.64L143.61 727.79L144.01 727.67L144.41 727.26L144.61 726.82L144.71 723.99L145.21 689.5L145.38 684.3L145.51 688L145.91 718.81L146.03 722.18L146.31 721.33L146.81 718.26L147.41 715.45L148.01 713.4L149.01 711.78L150.01 710.57L150.91 709.92L151.71 709.74L152.21 709.85L152.71 710.08L154.81 711.45L161.41 716.85L164.01 718.8L165.71 719.94L167.41 720.89L170.51 722.37L173.01 723.7L174.21 724.11L175.21 724.19L175.41 711.58L175.81 655.52L176 643.5L176.21 656.47L176.61 710.81L176.82 723.78L177.11 722.81L178.01 715.81L179.11 712.17L180.21 709.66L182.21 706.19L183.21 704.92L183.61 704.64L184.01 704.52L185.01 704.76L186.21 705.5L189.31 707.87L200.09 716.56L202.01 717.78L204.31 719.08L206.81 719.94L207.71 720.37L208.81 721.26L209.05 721.78L209.61 672.02L209.81 677.54L210.31 710.72L210.49 715.76L210.71 715.66L210.91 715.39L211.41 713.99L212.01 711.01L212.11 709.76L212.81 679.95L213.06 674.83L213.31 675.61L214.11 682.78L214.41 684.05L214.81 683.97L215.31 683.61L216.91 681.78L217.61 681.2L217.91 681.1L218.31 681.12L219.11 681.57L220.01 682.53L222.71 686.1L226.11 690.94L230.11 695.73L238.51 704.95L240.61 707.4L241.71 708.3L242.21 708.5L242.61 708.49L242.81 708.13L242.91 705.6L243.41 661.28L243.6 653.2L243.81 660.66L244.31 701.6L244.49 707.73L244.71 706.01L244.91 701.77L245.91 668.42L246.11 664.41L246.3 663L246.51 670.42L246.91 699.36L247.06 703.72L247.31 703.39L248.01 701.34L249.01 700.2L249.91 699.38L250.81 698.81L251.71 698.53L252.41 698.54L253.21 698.87L254.31 699.69L256.81 702.06L263.31 710.08L267.01 713.96L269.21 715.91L272.41 718.41L274.91 720.69L275.91 721.27L276.81 721.38L277.4 634L277.51 635.47L277.71 644.79L278.51 712.19L278.81 722.97L279.31 722.79L279.91 722.13L280.82 720.57L281.21 719.54L282.61 713.23L283.71 706.14L284.01 704.92L284.21 704.55L284.31 704.53L284.81 704.92L285.91 706.76L287.31 708.32L291.41 712.21L294.51 714.93L301.31 720.38L304.31 722.6L308.81 725.64L309.71 726.05L310.52 726.19L310.61 720.03L311 626.8L311.11 628.32L311.31 637.87L312.01 694.92L312.21 703.87L312.31 704.99L312.51 699.95L312.71 687.43L313.51 617.79L313.71 609.25L313.8 608.2L314.01 614.53L314.51 653.28L314.8 665L315.01 662.86L315.51 651.49L315.67 650.15L315.81 650.56L316.01 652.36L316.71 662.32L317.01 664.24L317.31 663.96L317.71 662.74L319.31 655.05L319.71 654.16L319.91 654.14L320.01 654.36L320.51 657.67L321.51 667.99L323.41 682.49L325.11 693.35L327.11 704.24L328.21 709.51L329.41 714.64L330.31 718.08L331.71 722.82L332.51 725.06L333.51 727.09L334.01 727.7L334.21 727.74L334.51 727.59L334.91 727.07L335.31 726.28L337.21 721.42L339.81 716.78L341.71 714.35L342.71 713.29L343.31 712.88L343.86 712.74L343.91 713.29L344.11 684.83L344.41 601.77L344.6 576.2L344.81 581.46L345.01 594.6L345.91 679.99L346.11 688.91L346.21 689.99L346.41 682.77L346.61 664.53L347.51 538.05L347.71 520.54L347.9 514.3L348.11 515.21L348.41 519.29L349.71 551.68L349.98 556.62L350.61 564.47L353.61 596.89L354.71 607.74L356.31 621.74L358.24 637.15L359.91 653.59L361.01 661.11L362.51 669.25L364.01 676.18L365.71 682.46L367.31 687.2L368.51 689.93L369.71 692.19L371.11 694.41L372.61 696.41L375.61 699.85L376.81 700.97L377.51 701.35L378.09 701.46L378.13 700.43L378.31 700.63L378.71 702.22L379.61 707.66L380.01 708.9L380.09 708.94L380.11 708.84L380.21 706.31L380.41 692.49L381.21 593.11L381.41 577.09L381.57 572.34L381.81 576.69L382.01 586.08L382.81 642.65L383.1 657.01L383.41 656.82L383.71 656.31L384.81 653.45L385.31 652.6L385.61 652.51L386.01 652.69L386.51 653.18L387.01 653.88L388.31 655.98L389.01 657.35L395.91 673.26L399.01 679.94L401.41 684.76L403.91 689.4L406.61 694.04L409.71 699.94L410.41 700.96L411.01 701.61L411.61 702.01L412.11 702.1L412.31 690.67L412.81 621.09L413.01 610L413.21 611.75L413.51 619.48L414.81 675.22L415.31 684.81L416.11 694.29L417.51 706.37L417.91 708.66L418.51 710.8L419.01 712.15L419.61 713.41L421.21 715.9L422.51 717.29L424.11 718.16L425.21 718.54L426.21 718.64L427.81 718.51L430.41 718.07L439.41 715.32L445.61 713.62L445.81 713.72L446.11 714.18L447.21 716.97L447.41 717.29L447.66 717.45L447.81 714.78L448.01 704.14L448.81 634.11L449.01 623.71L449.15 621.28L449.41 625.37L449.81 637.38L450 639.79L450.71 639.52L452.31 638.06L453.01 637.68L453.31 637.67L453.71 637.86L454.51 638.84L455.31 640.35L459.01 648.26L461.81 654.9L465.51 664.2L467.91 669.82L469.61 673.47L472.51 678.87L476.41 684.99L477.81 686.8L478.41 687.32L478.91 687.58L479.36 687.66L479.41 685.96L479.81 632.31L480.11 640.07L480.91 690.41L481.21 700.35L481.41 700.97L481.91 701.73L482.41 702.18L483.71 702.98L484.41 703.88L484.81 704.98L486.71 711.65L487.51 714.06L488.61 716.3L489.71 717.82L491.01 718.81L492.01 719.35L492.81 719.55L494.01 719.49L497.41 718.77L501.18 717.52L508.21 715.72L511.21 715.13L512.81 714.96L512.93 714.96L513.71 715.94L514.51 716.73L515.11 717.11L515.62 717.22L515.81 707.93L516.31 647.44L516.5 637.7L516.61 637.88L516.81 639.07L517.11 642.61L518.51 669.54L518.81 673.61L519.11 675.69L519.2 675.84L519.91 675.98L523.31 676.36L523.81 676.64L524.41 677.31L527.21 681.79L528.61 684.21L530.91 688.49L534.71 696.11L536.91 700.06L539.01 703.56L541.51 707.41L543.61 710.22L545.51 712.42L546.71 713.53L546.99 713.65L547.4 605.7L547.51 607.62L547.71 619.87L548.51 709.61L548.71 722.77L548.83 725.4L549.51 726.05L550.31 726.57L551.11 726.85L551.91 726.93L552.11 725.86L552.71 718.29L552.92 717.22L553.21 718.98L553.81 725.93L553.94 726.42L554.71 726.81L555.61 726.92L556.21 726.54L556.81 725.78L558.51 723.09L559.01 722.56L559.41 722.35L560.11 722.42L560.91 722.79L563.61 725.01L566.41 727.1L567.31 727.6L568.04 727.75L568.61 727.67L569.31 727.37L571.61 725.8L572.61 725.28L576.42 723.87L579.41 723.1L580.01 722.84L580.55 722.33L580.81 722.56L581.01 723.01L582.01 726.65L582.41 727.62L582.6 727.75L585.66 727.75L585.81 727.48L586.01 726.4L586.69 721.31L587.71 717.18L588.61 714.42L589.31 713.03L591.11 710.58L592.21 709.63L592.71 709.42L593.21 709.36L593.91 709.5L594.71 709.89L597.01 711.63L598.01 712.81L600.21 715.85L603.81 720.47L605.81 722.55L607.71 724.22L608.91 725.05L610.51 725.94L614.21 727.53L615.41 727.75L616.01 727.63L616.51 727.39L617.01 726.98L617.11 723.97L617.81 636.45L618.1 617.4L618.21 617.49L618.41 618.1L619.21 622.72L619.41 623.51L619.6 623.8L619.91 623.49L620.21 622.71L621.31 618.37L621.71 617.28L621.91 617.03L622.21 617.06L622.51 617.35L622.91 618.05L626.31 627.69L632.61 646.99L635.81 655.53L637.41 659.34L639.01 662.77L642.21 668.99L646.01 675.97L647.71 680.49L648.11 681.12L648.41 681.27L648.61 655.64L648.91 586.76L649.04 574.47L649.21 579.06L649.41 594.75L650.21 692.59L650.41 706.29L650.53 708.94L650.71 707.1L650.91 701.24L651.81 656.91L652.01 650.22L652.23 647.23L652.51 653.23L653.01 678.36L653.3 687.66L653.71 691.93L654.31 695.95L655.71 702.39L656.21 704.15L656.71 705.4L657.91 706.97L659.11 708L660.01 708.29L661.71 708.2L667.51 707.24L676.31 706.36L679.91 706.14L681.81 705.8L682.02 705.74L682.11 705.5L682.45 702.55" stroke="#f3dd58"/>
<path d="M106.41 727.4L108.82 727.4L109.01 717.63L109.31 688.3L109.46 682.05L109.71 684.07L109.91 688.1L111.01 721.44L111.21 724.76L111.38 725.79L111.51 725.1L111.71 721.5L112.61 691.03L112.81 686.69L112.99 685.26L113.11 685.45L113.31 686.49L114.11 693.3L114.81 695.63L115.61 697.38L116.71 699.09L118.01 700.67L119.41 702L121.11 703.28L123.11 704.45L125.41 705.53L128.21 706.57L132.61 707.87L138.91 709.37L140.61 709.67L142.17 709.74L142.41 713.46L142.81 725.75L142.98 727.8L143.21 727.72L143.51 727.42L144.11 726.19L144.71 724.26L145.31 721.69L145.61 718.25L146.41 704.84L146.61 702.65L146.83 701.71L147.01 701.93L147.31 703.08L148.41 709.65L149.31 712.5L150.11 714.28L151.61 716.52L153.31 718.34L155.61 720.09L156.81 720.8L158.01 721.35L160.81 722.26L164.81 723.16L173.21 724.46L175.41 724.59L175.71 725.03L176.61 727.62L176.81 727.8L177.11 727.7L177.61 727.12L178.11 726.04L178.61 724.54L179.22 722.18L179.51 719.38L180.11 709.65L180.31 707.7L180.43 707.33L180.71 707.63L181.11 708.89L182.51 716.51L183.11 718.75L183.81 719.57L185.21 720.55L187.51 722.56L189.01 723.65L191.11 724.92L193.21 725.89L195.21 726.61L197.31 727.09L201.01 727.56L204.61 727.71L208.11 727.25L208.92 727L209.37 726.59L209.71 726.76L210.51 727.66L210.71 727.78L210.91 727.77L211.31 727.12L211.81 725.18L212.31 722.18L212.82 718.17L213.01 715.02L213.51 700.36L213.78 696.5L214.01 696.68L214.21 697.14L214.71 699.27L216.41 710.85L217.11 714.21L217.71 715.52L218.41 716.63L220.91 719.59L221.91 720.47L223.41 721.39L225.31 722.27L227.81 723.23L232.11 724.51L236.81 725.57L241.41 726.3L242.52 726.35L243.41 726.2L243.71 726.41L244.51 727.61L244.82 727.8L245.01 727.56L245.21 726.83L245.61 724.04L246.11 718.51L246.51 712.22L246.81 697.75L247.41 656.77L247.61 647.56L247.8 644.2L248.01 646.37L248.21 651.67L249.31 690.22L249.61 697.76L250.01 702.52L250.61 707.14L251.51 712.12L252.31 714.94L252.91 716.41L253.51 717.55L254.31 718.73L255.11 719.69L255.91 720.46L257.01 721.29L259.51 722.72L261.81 723.69L264.41 724.52L268.11 725.39L272.11 726.19L274.41 727.37L276.52 727.64L277.21 726.59L277.51 726.72L278.11 727.27L278.41 727.4L278.61 725.55L278.91 716.59L279.91 663.95L280.31 648.27L280.51 644.63L280.61 644.22L281.01 659.97L281.6 596.1L281.81 598.42L282.01 604.39L283.11 661.28L284.01 689.6L284.61 699.34L285.21 705.89L286.01 711.57L287.11 716.91L287.71 719.21L288.31 721.04L289.01 722.57L289.71 723.74L290.51 724.68L291.51 725.55L293.41 726.79L294.31 727.25L295.51 727.48L297.61 727.63L306.01 727.57L310.52 727.4L310.56 726.27L311.01 726.35L312.11 726.78L312.61 726.81L312.91 726.41L313.21 725.51L313.71 722.9L314.21 718.89L314.31 715.23L314.61 681.24L315.21 583.4L315.5 563.8L315.71 564.73L315.91 567.25L316.31 576.19L317.91 632.91L318.91 659.86L319.81 678.17L320.81 692.37L321.51 699.54L322.51 707.71L323.21 712.09L324.11 716.18L325.21 719.77L326.51 722.84L328.61 726.3L329.21 727.01L329.71 727.35L331.81 727.36L340.21 726.87L342.01 726.68L343.52 726.39L343.81 712.85L344.41 654.16L344.6 647.5L344.81 650.14L345.11 661.5L346.11 718.23L346.41 726.46L346.51 727L346.61 726.36L346.91 718.53L347.31 697.13L348.71 592.06L349.11 573.88L349.21 571.39L349.4 569.4L349.51 569.5L349.71 570.16L350.11 572.99L351.31 586.42L353.81 611.22L355.61 627.26L357.41 641.29L357.81 645.46L358.81 659.16L360.01 669.21L364.11 697.03L365.51 705.28L366.61 711.05L367.71 715.72L369.11 720.45L371.31 726.48L371.71 727.3L372.11 727.72L372.31 727.73L372.51 727.61L373.01 726.82L374.41 723.03L374.91 721.95L375.41 721.29L376.51 720.29L377.11 719.27L377.61 717.78L378.09 715.56L378.13 713.19L378.31 714.52L378.91 725.39L379.02 725.96L379.11 724.94L379.41 708.47L380.21 632.51L380.41 622.71L380.51 621.28L380.71 621.93L380.81 622.76L381.21 629.33L381.61 640.98L382.01 657.52L382.51 685.07L382.81 727.76L383.01 727.19L383.31 724.47L384.51 705.59L384.81 702.76L385.02 702.1L385.31 702.47L385.61 703.5L386.91 710.64L388.61 716.81L390.61 722.65L392.21 726.48L392.91 727.6L393.31 727.75L393.81 727.35L394.41 726.26L395.71 723.24L396.51 721.94L398.81 718.91L401.41 716.21L404.31 713.81L406.91 712.12L409.41 710.86L411.11 710.27L411.91 710.12L412.01 710.12L412.11 710.63L412.21 711.95L412.71 723.52L412.91 726.69L413.01 727.15L413.21 710.02L413.61 636.32L413.8 620.6L414.01 621.63L414.21 624.4L414.61 634.24L416.11 692.91L416.71 710.62L417.01 715.08L418.01 722.54L418.71 726.13L419.11 727.32L419.41 727.72L419.71 727.68L420.11 727.12L421.61 722.96L421.91 722.33L422.31 721.76L423.21 720.72L424.21 719.79L425.71 718.64L427.21 717.65L429.01 716.65L431.11 715.63L433.11 714.8L434.91 714.17L439.21 713.08L443.01 712.4L445.01 712.16L445.96 712.13L446.01 712.27L446.61 724.01L446.81 725.96L447.01 721.75L447.61 687.3L447.87 680.21L448.11 683.92L448.81 714.39L449.11 721.58L449.15 721.7L449.21 721.68L449.41 721.21L449.81 718.8L450.71 709.35L451.01 710.5L451.61 714.89L452.31 718.78L453.81 726.79L454.11 727.7L455.01 727.74L455.41 727.41L455.81 726.62L457.01 723.53L457.51 722.78L458.41 721.74L459.41 720.8L460.81 719.69L463.41 717.99L465.71 717L468.31 716.23L476.41 714.8L478.71 714.26L479.61 714.15L479.72 714.14L479.81 714.55L479.91 715.87L480.31 724.67L480.54 727.22L480.71 721.2L481.11 688.98L481.25 684.31L481.41 685.66L481.61 690.73L482.31 717.01L482.58 721.09L482.71 720.66L482.91 718.37L483.91 695.68L484.11 692.68L484.32 691.46L484.61 693.62L485.21 704.04L485.71 709.27L487.71 724.23L488.11 726.46L488.41 727.22L489.21 727.71L489.51 727.73L489.81 727.55L490.41 726.68L491.71 724.05L492.51 723.02L494.61 720.94L497.11 719.17L500.01 717.58L502.71 716.38L505.51 715.44L509.41 714.42L511.01 714.16L513.07 714.16L513.68 721.31L514.29 679.93L514.41 680.82L514.61 685.83L515.31 715.52L515.51 720.47L515.62 721.31L515.81 717.91L516.01 708.19L516.81 651.86L517.01 644.86L517.1 644L517.21 644.26L517.41 646.04L517.71 651.29L518.91 684.47L519.51 695.85L520.71 711.77L521.91 724.33L522.21 726.68L522.41 727.4L522.61 727.42L522.91 727.22L523.41 726.51L525.11 722.74L527.71 718.15L529.01 716.54L530.71 714.94L533.11 713.26L535.91 711.87L538.81 710.81L544.41 709.2L545.91 708.92L547.01 708.87L547.6 721.31L547.81 711.37L548.21 669.02L548.4 660L548.51 661.36L548.71 669.81L549.41 715.87L549.6 720L549.71 718.57L550.01 702.21L550.81 626.6L551.01 614.38L551.2 610L551.31 611.32L551.51 619.67L552.11 664.59L552.41 680.44L552.81 690.04L554.01 710.85L554.91 723.24L555.31 727L555.41 727.37L555.51 727.42L555.71 726.37L556.41 717.95L556.71 715.79L557.31 712.43L558.31 707.78L559.41 703.22L560.41 699.8L561.51 696.67L562.61 694.26L563.91 692L565.61 689.57L567.21 687.59L568.51 686.35L570.31 685.11L573.41 683.39L577.51 681.56L579.01 681.06L580.21 680.97L580.51 681.11L580.86 681.46L581.37 721.31L581.61 707.74L582.11 639.6L582.4 619.6L582.51 621.76L582.71 634.95L583.31 693.49L583.5 700L583.61 696.29L584.31 596.21L584.5 585.1L584.61 587.19L584.81 600.56L585.61 702.96L585.81 720.6L586 727L586.11 726.74L586.31 725.05L587.11 712.21L587.51 707.65L588.11 701.8L589.01 694.95L589.71 690.86L590.71 686.73L591.61 683.97L592.91 681.09L593.91 679.45L595.21 678.01L596.71 676.72L598.11 675.95L600.11 675.41L601.81 675.15L603.11 675.13L606.51 675.33L607.71 675.21L611.01 674.2L613.61 672.99L614.6 672.8L614.81 684.28L615.11 716.98L615.31 726.98L615.61 706.07L616.21 626.28L616.4 617.4L616.51 617.81L616.71 620.62L617.01 629.07L618.61 708.1L619.01 721.87L619.21 725.71L619.4 727L619.51 726.78L619.71 725.39L620.41 717.22L621.01 711.88L621.41 709.16L622.01 706.65L622.61 704.82L623.61 702.54L624.51 701L625.61 699.75L627.11 698.54L629.71 696.94L632.01 695.76L635.01 694.54L637.71 693.63L641.31 692.75L643.11 692.5L645.91 692.61L647.31 692.82L648.01 693.04L648.31 698.47L649.01 722.73L649.26 725.96L649.41 723.45L649.61 713.86L650.41 651.58L650.61 642.46L650.74 640.43L651.01 643.01L651.31 651.28L652.71 715.83L653.01 724.54L653.11 726.28L653.3 727.66L653.51 727.2L653.71 726.07L654.51 719.09L654.79 717.45L655.41 715.37L656.01 713.81L656.61 712.62L657.41 711.44L658.41 710.28L659.41 709.4L660.51 708.71L661.81 708.09L667.11 706.22L678.31 702.51L680.61 702L681.71 701.38L682.23 700.85L682.45 689.79" stroke="#adacd6"/>
<path d="M106.41 725.79L106.91 726.75L107.21 726.95L107.51 726.99L107.61 727L107.71 725.82L108.21 702.18L108.41 697.3L108.61 701.01L109.21 726.54L109.31 727.39L109.51 724.89L110.01 710.41L110.26 706.93L110.82 722.18L111.01 717.7L111.41 695.18L111.62 689.27L111.81 694.2L112.11 710.34L112.27 714.15L112.41 713.77L112.61 712.12L113.61 696.32L113.81 694.21L114.01 693.3L114.31 693.48L114.61 694.06L115.91 697.86L116.91 699.36L117.91 700.56L119.01 701.65L120.41 702.79L121.81 703.72L123.41 704.6L125.21 705.44L129.41 706.96L134.51 708.34L139.31 709.45L141.11 709.72L142.01 709.74L142.57 695.29L142.71 698.2L143.11 722.27L143.3 727.8L143.51 725.47L143.91 716.12L144.1 714.15L144.31 717.53L144.61 726.27L144.74 727.8L145.38 695.7L145.87 727.8L146.11 727.17L146.31 725.85L147.51 712.4L147.81 710.28L148.03 709.74L148.31 709.91L148.61 710.43L149.91 713.92L151.61 716.42L152.71 717.72L153.81 718.77L155.21 719.83L156.61 720.69L157.91 721.31L159.41 721.86L163.51 722.9L166.31 723.42L173.11 724.44L175.21 724.59L175.61 706.13L175.71 706.52L175.91 709.42L176.51 724.27L176.71 727.31L176.82 727.8L177.01 727.14L177.71 719.77L177.91 718.4L178.02 718.17L178.58 727.8L179.06 688.47L179.31 694.82L179.81 722.67L180.03 727.8L180.51 714.15L180.71 716.72L181.11 726.76L181.23 727.8L181.41 727.48L181.61 726.5L182.51 719.56L182.71 718.73L182.83 718.57L183.21 718.66L183.61 718.91L185.11 720.46L187.01 722.14L189.11 723.71L191.61 725.18L194.71 726.45L196.08 726.83L198.41 727.27L202.81 727.68L205.41 727.65L207.81 727.32L208.61 727.13L209.01 726.93L209.21 726.59L209.61 686.87L209.71 687.61L209.91 693.08L210.51 721.14L210.71 726.87L210.82 727.8L211.01 726.8L211.51 720.02L211.78 718.17L212.34 727.8L212.82 682.85L213.01 686.63L213.61 720.94L213.87 727.8L214.01 727.71L214.21 727.32L214.61 725.79L216.21 716.43L216.51 715.39L216.71 715.03L216.83 714.96L217.21 715.07L217.71 715.5L219.51 718.01L221.61 720.23L223.11 721.23L225.01 722.15L227.11 722.98L229.31 723.71L234.71 725.13L237.21 725.64L240.91 726.24L242.52 726.35L243.21 726.19L243.41 721.15L243.81 698.62L244.01 693.29L244.11 693.9L244.31 698.48L244.91 722.14L245.21 727.79L245.31 727.55L245.51 725.56L246.11 715.1L246.31 712.93L246.42 712.55L246.61 714.32L247.01 723.11L247.21 725.38L247.41 724.75L247.71 722.66L247.81 722.25L247.91 722.21L248.11 723.07L248.61 727.05L248.81 727.79L249.11 727.57L249.51 726.59L251.21 719.1L251.61 717.88L251.81 717.52L252.04 717.36L252.61 717.49L253.31 717.94L255.41 720.04L256.21 720.68L258.61 722.23L260.61 723.22L262.71 724L265.01 724.68L272.11 726.19L274.41 727.37L276.52 727.64L276.81 727.31L277.05 726.59L277.11 725.44L277.61 678.28L277.8 669L278.01 675.29L278.71 725.18L278.81 726.99L278.91 726.52L279.41 716.34L279.62 714.15L280.1 727L280.6 662.3L280.71 663.33L280.91 669.85L281.71 717.37L282.01 725.36L282.21 725.19L282.41 724.57L283.31 719.82L283.61 718.77L283.79 718.57L284.01 718.63L284.31 718.89L285.01 719.99L285.41 721.59L286.31 726.19L286.61 727.14L286.81 727.39L287.51 727.17L289.21 725.73L289.61 725.49L290.01 725.39L290.51 725.45L291.11 725.69L293.01 726.94L293.81 727.33L295.61 727.67L297.11 727.8L298.01 727.75L299.01 727.55L305.11 725.62L307.61 725.13L309.41 725L310.21 725.66L310.52 725.79L311.11 688.14L311.38 678.34L311.61 683.34L312.21 718.2L312.41 725.69L312.51 726.84L312.61 725.84L312.81 718.37L313.51 669.86L313.71 660.6L313.86 658.04L314.11 668.94L314.51 706.77L314.71 718.2L314.77 718.94L314.81 718.52L314.91 714.54L315.21 694.18L315.31 690.89L315.33 690.75L315.41 690.97L315.81 697.74L316.61 721.4L316.81 725.25L317.01 726.83L317.21 726.77L317.41 726.55L317.81 725.74L319.81 718.77L320.31 717.62L320.71 717.26L321.11 717.42L321.51 717.93L323.11 721.33L323.71 722.25L325.01 723.33L326.11 724.09L327.01 724.54L327.91 724.78L328.91 724.77L330.11 724.48L336.51 722.04L340.71 720.65L342.31 720.33L344.26 720.3L344.41 716.35L344.91 677.98L345.16 668.19L345.31 670.19L345.51 677.93L346.21 719.32L346.41 725.86L346.51 726.84L346.61 725.77L346.81 717.82L347.51 666.13L347.71 656.26L347.86 653.53L348.01 662L348.41 719.41L348.54 726.84L348.71 722.31L349.11 695.03L349.33 687.37L349.61 688.08L349.81 689.32L350.91 700.04L352.01 707.58L352.91 712.78L354.01 717.25L354.91 720.04L355.31 720.87L355.81 721.52L356.81 722.52L357.61 723.05L358.35 723.23L359.11 723.06L360.01 722.53L362.01 720.85L366.41 717.58L371.11 713.48L375.91 709.86L377.31 708.57L377.71 708.32L378.09 708.23L378.13 708.94L378.6 608.51L378.71 610.4L378.91 621.81L379.71 707.16L379.91 721.36L380.09 725.96L380.31 721.27L380.51 710.53L381.41 638.66L381.61 629.06L381.79 625.96L382.01 635.78L382.51 682.75L382.71 688.3L385.01 702.05L386.11 707.31L387.41 712.61L388.81 717.45L390.41 722.13L392.31 726.69L392.81 727.5L393.21 727.75L393.61 727.57L394.01 727.04L395.71 723.24L396.91 721.36L399.01 718.68L401.31 716.3L404.11 713.96L406.51 712.36L411.41 709.96L412.07 709.82L412.11 710.12L412.2 685.07L412.31 685.82L412.51 690.85L413.21 721.51L413.41 726.46L413.51 727.15L413.71 725.39L413.91 720.7L414.81 687.57L415.01 682.87L415.21 681.06L415.41 684.89L415.91 707.51L416.31 714.24L416.81 718.87L417.51 722.74L418.31 726.14L418.71 727.22L419.01 727.66L419.21 727.76L419.41 727.7L419.91 727.08L421.61 722.88L421.91 722.32L422.51 721.53L423.51 720.45L424.61 719.47L426.01 718.43L427.61 717.41L429.41 716.44L431.51 715.46L433.41 714.68L435.21 714.08L440.31 712.86L444.21 711.76L445.57 711.62L445.61 712.13L445.81 705.77L446.21 677.93L446.38 672.77L446.51 673.84L446.71 679.38L447.51 718.86L447.71 725.18L447.87 727.02L448.01 725.22L448.21 717.04L449.01 660.8L449.21 652.09L449.36 649.79L449.51 657.93L449.91 715.33L450.09 727.22L450.31 727.09L450.61 726.53L451.81 722.83L452.11 722.26L452.31 722.12L452.61 722.28L453.01 723.01L454.51 727.24L454.81 727.66L455.11 727.71L455.41 727.41L455.71 726.85L457.01 723.53L457.91 722.29L458.91 721.25L460.11 720.23L461.81 718.97L463.31 718.05L465.61 717.04L468.21 716.25L476.81 714.73L478.61 714.55L479.72 714.14L479.79 674.89L479.91 675.86L480.11 681.1L481.01 722.54L481.21 726.7L481.31 726.97L481.51 724.33L481.81 714.41L482.81 667L483.01 661.73L483.19 660L483.41 666.46L484.01 714.63L484.21 725.36L484.32 727.22L484.51 727.09L484.81 726.42L485.81 722.63L486.11 721.85L486.31 721.62L486.51 721.64L486.71 721.82L487.11 722.51L488.81 727.08L489.21 727.64L489.51 727.73L489.81 727.55L490.21 727.03L491.81 723.89L493.01 722.47L495.11 720.54L497.91 718.7L501.81 716.75L505.61 715.41L508.41 714.7L510.71 714.25L513.21 713.94L513.44 713.94L513.48 714.16L513.78 688.61L513.91 689.61L514.11 694.51L514.81 722.35L515.01 726.8L515.11 727.44L515.21 727.11L515.41 724.71L516.01 712.29L516.21 709.61L516.34 709.05L516.95 725.4L517.56 715.18L517.81 716.43L518.41 723.83L518.61 725.26L518.69 725.4L519.01 725.3L520.31 724.04L520.61 723.88L520.91 723.94L521.41 724.71L522.51 727.31L522.81 727.69L523.01 727.75L523.31 727.54L523.61 727.03L525.21 722.59L527.21 718.9L528.01 717.71L528.71 716.87L529.81 715.74L531.01 714.7L532.31 713.76L533.81 712.87L535.41 712.09L537.11 711.4L541.01 710.19L545.11 709.55L546.01 709.24L546.79 708.85L547.01 707.16L547.41 701.15L547.6 699.85L547.71 700.4L547.91 704.07L548.61 725.03L548.83 727.44L549.01 726.03L549.21 721.5L550.21 681.41L550.41 675.8L550.67 672.77L550.81 674.19L551.01 680.37L551.61 709.37L551.9 717.22L552.51 721.85L553.11 724.5L553.61 725.82L554.21 727.05L554.61 727.58L555.01 727.73L555.21 727.22L555.41 726.15L556.61 716.55L557.61 711.07L558.61 706.46L559.71 702.12L560.81 698.59L561.81 695.94L563.01 693.51L564.51 691.1L566.61 688.28L568.01 686.78L569.51 685.62L573.51 683.34L578.01 681.36L579.11 681.04L580.01 680.95L580.86 681.46L581.01 676.88L581.31 654.64L581.5 647.2L581.61 648.23L581.81 654.9L582.71 715.12L582.91 724.18L583.11 727.65L583.31 717.71L583.81 652.3L584.1 632.3L584.31 635.57L584.51 643.93L585.51 713.11L585.71 722.62L585.97 727.75L586.11 727.33L586.31 725.44L587.01 713.71L587.41 708.72L588.11 701.8L588.91 695.64L589.61 691.36L590.51 687.47L591.41 684.51L592.61 681.69L593.71 679.73L594.71 678.52L596.51 676.87L598.01 675.99L600.01 675.43L601.81 675.15L603.11 675.13L606.41 675.33L607.51 675.25L612.81 673.78L614.01 673.22L614.58 672.77L614.71 672.42L615.31 667.62L615.6 666.4L615.81 669.56L616.01 677.4L616.81 720.99L617.01 726.34L617.11 726.99L617.31 723.61L617.51 715.22L618.31 668.53L618.51 662.81L618.6 662.1L618.81 673.44L619.21 719.17L619.39 727.75L619.51 727.45L619.71 725.9L620.41 717.22L621.01 711.86L621.41 709.16L621.91 707.01L622.51 705.09L623.31 703.17L624.21 701.46L624.81 700.6L625.51 699.84L626.41 699.05L627.51 698.27L631.01 696.24L634.61 694.69L638.11 693.51L641.61 692.74L646.21 692.25L648 692.19L648.04 692.34L648.31 690L648.81 680.97L649.04 679.15L649.31 686.69L649.91 723.22L650.11 727.66L650.31 726.6L650.61 721.75L651.71 691.99L652.01 686.86L652.21 685.55L652.31 686.42L652.41 690.08L652.91 722.93L653.09 727.66L653.31 727.27L653.51 726.37L654.51 718.88L654.91 717.02L655.61 714.86L656.31 713.19L656.91 712.14L657.91 710.83L658.81 709.9L659.71 709.19L660.81 708.55L662.11 707.97L667.21 706.19L678.41 702.48L680.31 702.01L681.21 701.58L682.02 700.85L682.45 694.04" stroke="#ec6358"/>
</g>
<path d="M95.6 375.5H682.0M158.5 375.5v-6M220.5 375.5v-6M282.5 375.5v-6M345.5 375.5v-6M407.5 375.5v-6M470.5 375.5v-6M532.5 375.5v-6M594.5 375.5v-6M657.5 375.5v-6M96 6.5h6M96 47.5h6M96 88.5h6M96 129.5h6M96 170.5h6M96 211.5h6M96 252.5h6M96 293.5h6M96 334.5h6M105.8 728.3H682.4M167.4 728.3v-6M228.8 728.3v-6M290.3 728.3v-6M351.7 728.3v-6M413.1 728.3v-6M474.6 728.3v-6M536.0 728.3v-6M597.5 728.3v-6M658.9 728.3v-6M106.2 486.1h6M106.2 520.7h6M106.2 555.3h6M106.2 589.9h6M106.2 624.5h6M106.2 659.1h6M106.2 693.7h6" stroke="#5c5c5c" stroke-width="0.75" fill="none"/>
<path d="M96 6.1V375.8M106.2 485.70000000000005V728.5999999999999" stroke="#6c6c6c" stroke-width="1" fill="none"/>
<text class="t" x="95.5" y="388.7" text-anchor="middle">0</text>
<text class="t" x="158.5" y="388.7" text-anchor="middle">2</text>
<text class="t" x="220.5" y="388.7" text-anchor="middle">4</text>
<text class="t" x="282.5" y="388.7" text-anchor="middle">6</text>
<text class="t" x="345.5" y="388.7" text-anchor="middle">8</text>
<text class="t" x="407.5" y="388.7" text-anchor="middle">10</text>
<text class="t" x="470.5" y="388.7" text-anchor="middle">12</text>
<text class="t" x="532.5" y="388.7" text-anchor="middle">14</text>
<text class="t" x="594.5" y="388.7" text-anchor="middle">16</text>
<text class="t" x="657.5" y="388.7" text-anchor="middle">18</text>
<text class="t" x="91" y="10.0" text-anchor="end">4.2</text>
<text class="t" x="91" y="51.0" text-anchor="end">4.1</text>
<text class="t" x="91" y="92.0" text-anchor="end">4</text>
<text class="t" x="91" y="133.0" text-anchor="end">3.9</text>
<text class="t" x="91" y="174.0" text-anchor="end">3.8</text>
<text class="t" x="91" y="215.0" text-anchor="end">3.7</text>
<text class="t" x="91" y="256.0" text-anchor="end">3.6</text>
<text class="t" x="91" y="297.0" text-anchor="end">3.5</text>
<text class="t" x="91" y="338.0" text-anchor="end">3.4</text>
<text class="t" x="91" y="379.0" text-anchor="end">3.3</text>
<text class="l" x="389" y="402.3" text-anchor="middle">Time [hours]</text>
<text class="l" transform="translate(72.3,190.8) rotate(-90)" text-anchor="middle">Voltage [V]</text>
<text class="t" x="106.0" y="741" text-anchor="middle">0</text>
<text class="t" x="167.4" y="741" text-anchor="middle">2</text>
<text class="t" x="228.8" y="741" text-anchor="middle">4</text>
<text class="t" x="290.3" y="741" text-anchor="middle">6</text>
<text class="t" x="351.7" y="741" text-anchor="middle">8</text>
<text class="t" x="413.1" y="741" text-anchor="middle">10</text>
<text class="t" x="474.6" y="741" text-anchor="middle">12</text>
<text class="t" x="536.0" y="741" text-anchor="middle">14</text>
<text class="t" x="597.5" y="741" text-anchor="middle">16</text>
<text class="t" x="658.9" y="741" text-anchor="middle">18</text>
<text class="t" x="101.5" y="489.6" text-anchor="end">0.035</text>
<text class="t" x="101.5" y="524.2" text-anchor="end">0.03</text>
<text class="t" x="101.5" y="558.8" text-anchor="end">0.025</text>
<text class="t" x="101.5" y="593.4" text-anchor="end">0.02</text>
<text class="t" x="101.5" y="628.0" text-anchor="end">0.015</text>
<text class="t" x="101.5" y="662.6" text-anchor="end">0.01</text>
<text class="t" x="101.5" y="697.2" text-anchor="end">0.005</text>
<text class="t" x="101.5" y="731.8" text-anchor="end">0</text>
<text class="l" x="394.3" y="754.6" text-anchor="middle">Time [hours]</text>
<text class="l" transform="translate(74.1,607.2) rotate(-90)" text-anchor="middle">Fitted voltage absolute error [V]</text>
<rect x="586.5" y="14.2" width="87" height="57" fill="#fff" stroke="#5c5c5c" stroke-width="0.9"/>
<path d="M589.5 21.4H619" stroke="#1c1c1c" stroke-width="1.4"/>
<text class="lg" x="621.8" y="24.8">Experimental</text>
<path d="M589.5 32.3H619" stroke="#62bba9" stroke-width="0.9"/>
<text class="lg" x="621.8" y="35.7">ECM</text>
<path d="M589.5 43.3H619" stroke="#f3dd58" stroke-width="0.9"/>
<text class="lg" x="621.8" y="46.7">ECM-opt</text>
<path d="M589.5 54.2H619" stroke="#adacd6" stroke-width="0.9"/>
<text class="lg" x="621.8" y="57.6">ECMh</text>
<path d="M589.5 65.2H619" stroke="#ec6358" stroke-width="0.9"/>
<text class="lg" x="621.8" y="68.6">ECMh-opt</text>
<rect x="114.3" y="494.5" width="76.3" height="44.9" fill="#fff" stroke="#5c5c5c" stroke-width="0.9"/>
<path d="M117 501.5H146.5" stroke="#62bba9" stroke-width="0.9"/>
<text class="lg" x="149.2" y="504.4">ECM</text>
<path d="M117 512.0H146.5" stroke="#f3dd58" stroke-width="0.9"/>
<text class="lg" x="149.2" y="514.9">ECM-opt</text>
<path d="M117 522.5H146.5" stroke="#adacd6" stroke-width="0.9"/>
<text class="lg" x="149.2" y="525.4">ECMh</text>
<path d="M117 533.0H146.5" stroke="#ec6358" stroke-width="0.9"/>
<text class="lg" x="149.2" y="535.9">ECMh-opt</text>
<text class="cap" x="3.5" y="451.8" font-weight="bold" textLength="19.3" lengthAdjust="spacingAndGlyphs">(a)</text><text class="cap" x="31.5" y="451.8" textLength="93.5" lengthAdjust="spacingAndGlyphs">Fitted voltage</text>
<text class="cap" x="3.5" y="789.6" font-weight="bold" textLength="22" lengthAdjust="spacingAndGlyphs">(b)</text><text class="cap" x="32.2" y="789.6" textLength="192" lengthAdjust="spacingAndGlyphs">Fitted voltage absolute error</text>
</svg></body></html>
